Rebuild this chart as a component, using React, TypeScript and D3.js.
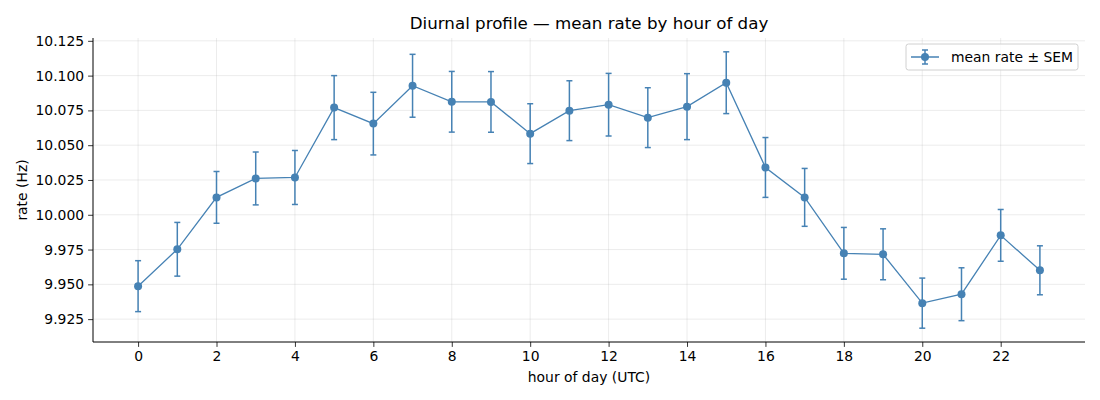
import React, { useEffect, useRef } from "react";
import * as d3 from "d3";

const hours = d3.range(0, 24);
const meanRate = [
  9.9487, 9.9752, 10.0125, 10.0261, 10.0268, 10.077, 10.0655, 10.0927, 10.0812, 10.0811, 10.0583, 10.0748,
  10.0791, 10.0698, 10.0777, 10.0949, 10.034, 10.0125, 9.9723, 9.9716, 9.9365, 9.9429, 9.9852, 9.9601,
];
const sem = [
  0.0183, 0.0193, 0.0186, 0.019, 0.0194, 0.023, 0.0225, 0.0226, 0.0218, 0.0218, 0.0215, 0.0215,
  0.0225, 0.0215, 0.0237, 0.0222, 0.0215, 0.0208, 0.0186, 0.0183, 0.018, 0.019, 0.0186, 0.0176,
];
const xTicks = [0, 2, 4, 6, 8, 10, 12, 14, 16, 18, 20, 22];
const yTicks = [9.925, 9.95, 9.975, 10.0, 10.025, 10.05, 10.075, 10.1, 10.125];

const W = 1100;
const H = 400;
const margin = { top: 38, right: 15, bottom: 58, left: 93 };
const color = "#4682b4";
const font = "DejaVu Sans, sans-serif";

const App = () => {
  const ref = useRef(null);

  useEffect(() => {
    const svg = d3.select(ref.current);
    svg.selectAll("*").remove();

    const iw = W - margin.left - margin.right;
    const ih = H - margin.top - margin.bottom;

    const lo = d3.min(meanRate, (d, i) => d - sem[i]);
    const hi = d3.max(meanRate, (d, i) => d + sem[i]);
    const pad = (hi - lo) * 0.05;
    const x = d3.scaleLinear().domain([-1.15, 24.15]).range([0, iw]);
    const y = d3.scaleLinear().domain([lo - pad, hi + pad]).range([ih, 0]);

    const g = svg.append("g").attr("transform", `translate(${margin.left},${margin.top})`);

    // grid
    g.selectAll(".gx")
      .data(xTicks)
      .enter()
      .append("line")
      .attr("x1", (d) => x(d))
      .attr("x2", (d) => x(d))
      .attr("y1", 0)
      .attr("y2", ih)
      .attr("stroke", "#b0b0b0")
      .attr("stroke-opacity", 0.3)
      .attr("stroke-width", 0.8);
    g.selectAll(".gy")
      .data(yTicks)
      .enter()
      .append("line")
      .attr("x1", 0)
      .attr("x2", iw)
      .attr("y1", (d) => y(d))
      .attr("y2", (d) => y(d))
      .attr("stroke", "#b0b0b0")
      .attr("stroke-opacity", 0.3)
      .attr("stroke-width", 0.8);

    // axes
    const xAxis = g
      .append("g")
      .attr("transform", `translate(0,${ih})`)
      .call(d3.axisBottom(x).tickValues(xTicks).tickSize(4.9).tickPadding(4).tickFormat(d3.format("d")));
    const yAxis = g
      .append("g")
      .call(d3.axisLeft(y).tickValues(yTicks).tickSize(4.9).tickPadding(4).tickFormat(d3.format(".3f")));
    [xAxis, yAxis].forEach((a) => {
      a.select(".domain").attr("stroke", "#000").attr("stroke-width", 1).attr("d", null);
      a.selectAll(".tick line").attr("stroke", "#000").attr("stroke-width", 0.8);
      a.selectAll(".tick text").attr("fill", "#000").style("font-family", font).style("font-size", "13.9px");
    });
    xAxis.select(".domain").remove();
    yAxis.select(".domain").remove();
    g.append("line").attr("x1", 0).attr("x2", iw).attr("y1", ih).attr("y2", ih).attr("stroke", "#000");
    g.append("line").attr("x1", 0).attr("x2", 0).attr("y1", 0).attr("y2", ih).attr("stroke", "#000");

    // error bars
    const cap = 3;
    const eb = g.append("g").attr("stroke", color).attr("stroke-width", 1.5);
    hours.forEach((h, i) => {
      const cx = x(h);
      const top = y(meanRate[i] + sem[i]);
      const bot = y(meanRate[i] - sem[i]);
      eb.append("line").attr("x1", cx).attr("x2", cx).attr("y1", top).attr("y2", bot);
      eb.append("line").attr("x1", cx - cap).attr("x2", cx + cap).attr("y1", top).attr("y2", top);
      eb.append("line").attr("x1", cx - cap).attr("x2", cx + cap).attr("y1", bot).attr("y2", bot);
    });

    const line = d3
      .line()
      .x((d, i) => x(hours[i]))
      .y((d) => y(d));
    g.append("path").datum(meanRate).attr("d", line).attr("fill", "none").attr("stroke", color).attr("stroke-width", 1.3);

    g.selectAll(".pt")
      .data(meanRate)
      .enter()
      .append("circle")
      .attr("cx", (d, i) => x(hours[i]))
      .attr("cy", (d) => y(d))
      .attr("r", 4)
      .attr("fill", color);

    // labels
    svg
      .append("text")
      .attr("x", margin.left + iw / 2)
      .attr("y", 29)
      .attr("text-anchor", "middle")
      .style("font-family", font)
      .style("font-size", "16.7px")
      .text("Diurnal profile — mean rate by hour of day");
    svg
      .append("text")
      .attr("x", margin.left + iw / 2)
      .attr("y", 382)
      .attr("text-anchor", "middle")
      .style("font-family", font)
      .style("font-size", "13.9px")
      .text("hour of day (UTC)");
    svg
      .append("text")
      .attr("transform", `translate(27,${margin.top + ih / 2}) rotate(-90)`)
      .attr("text-anchor", "middle")
      .style("font-family", font)
      .style("font-size", "13.9px")
      .text("rate (Hz)");

    // legend
    const lg = svg.append("g").attr("transform", "translate(906,44)");
    lg.append("rect")
      .attr("width", 172)
      .attr("height", 26)
      .attr("rx", 2.5)
      .attr("fill", "#fff")
      .attr("fill-opacity", 0.8)
      .attr("stroke", "#d0d0d0");
    lg.append("line").attr("x1", 5).attr("x2", 33).attr("y1", 13).attr("y2", 13).attr("stroke", color).attr("stroke-width", 1.5);
    lg.append("line").attr("x1", 19).attr("x2", 19).attr("y1", 6).attr("y2", 20).attr("stroke", color).attr("stroke-width", 1.5);
    lg.append("line").attr("x1", 16).attr("x2", 22).attr("y1", 6).attr("y2", 6).attr("stroke", color).attr("stroke-width", 1.5);
    lg.append("line").attr("x1", 16).attr("x2", 22).attr("y1", 20).attr("y2", 20).attr("stroke", color).attr("stroke-width", 1.5);
    lg.append("circle").attr("cx", 19).attr("cy", 13).attr("r", 4).attr("fill", color);
    lg.append("text")
      .attr("x", 45)
      .attr("y", 18)
      .style("font-family", font)
      .style("font-size", "13.9px")
      .text("mean rate ± SEM");
  }, []);

  return <svg ref={ref} width={W} height={H} style={{ position: "absolute", left: 0, top: 0 }}></svg>;
};

export default App;
